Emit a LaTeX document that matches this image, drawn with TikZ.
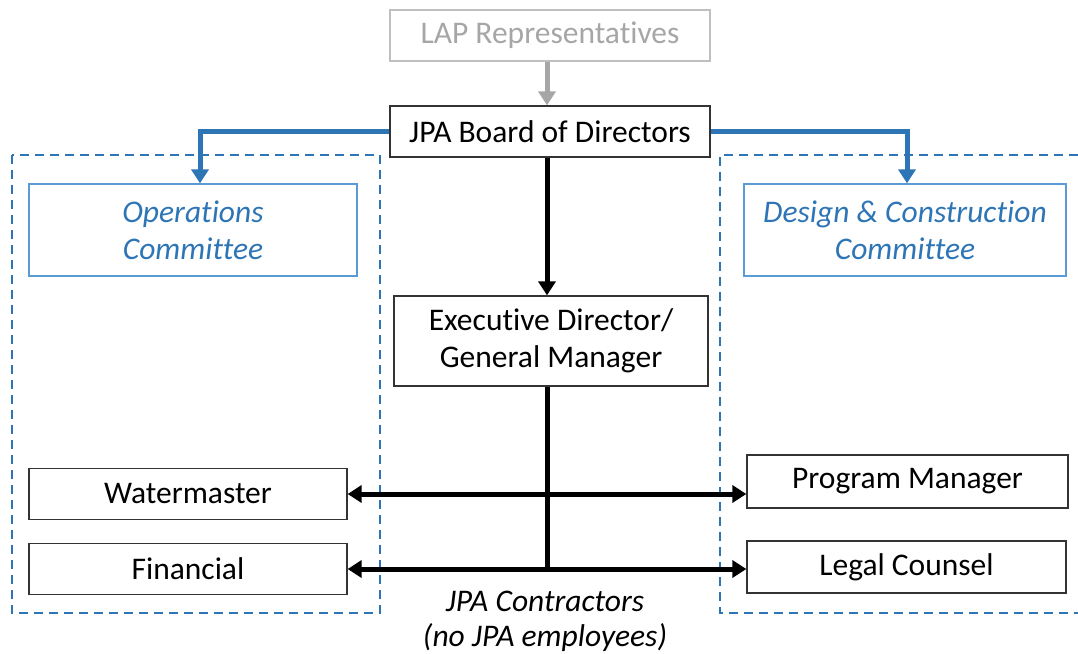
\documentclass[tikz,border=0pt]{standalone}
\usepackage{fontspec}
\setmainfont{Carlito}[Ligatures=NoCommon]
\usetikzlibrary{arrows.meta}
\definecolor{mblue}{HTML}{2E75B6}
\definecolor{lblue}{HTML}{5B9BD5}
\definecolor{lgray}{HTML}{BFBFBF}
\definecolor{tgray}{HTML}{A6A6A6}
\tikzset{
  base/.style={draw, line width=1.3pt, inner sep=0pt, align=center, font=\fontsize{31.5}{37}\selectfont},
  blackbox/.style={base, draw=black!80},
  graybox/.style={base, draw=lgray, text=tgray},
  bluebox/.style={base, draw=lblue, text=mblue, font=\fontsize{31.5}{37}\selectfont\itshape},
  thick arrow/.style={line width=5pt, -{Triangle[length=14pt,width=17pt]}},
  dbl arrow/.style={line width=5pt, {Triangle[length=14pt,width=17pt]}-{Triangle[length=14pt,width=17pt]}},
  dashbox/.style={draw=mblue, line width=2pt, dash pattern=on 9pt off 6pt},
}
\begin{document}
\begin{tikzpicture}[x=1pt,y=-1pt]
\useasboundingbox (0,0) rectangle (1078,653);
% dashed groups
\draw[dashbox] (12,155) rectangle (380,613);
\draw[dashbox] (1078,155) -- (720,155) -- (720,613) -- (1078,613);
% nodes
\node[graybox, minimum width=320pt, minimum height=51pt] (lap) at (550,35.5) {LAP Representatives};
\node[blackbox, minimum width=320pt, minimum height=51pt] (board) at (550,131.5) {JPA Board of Directors};
\node[bluebox, minimum width=328pt, minimum height=92pt] (ops) at (193,230) {Operations\\Committee};
\node[bluebox, minimum width=322pt, minimum height=92pt] (dc) at (905,230) {Design \& Construction\\Committee};
\node[blackbox, minimum width=314pt, minimum height=90pt] (exec) at (551,341) {Executive Director/\\General Manager};
\node[blackbox, minimum width=318pt, minimum height=51pt] (wm) at (188,494) {Watermaster};
\node[blackbox, minimum width=318pt, minimum height=51pt] (fin) at (188,569) {Financial};
\node[blackbox, minimum width=321pt, minimum height=53pt] (pm) at (907.5,481.5) {Program Manager};
\node[blackbox, minimum width=319pt, minimum height=52pt] (lc) at (906.5,567) {Legal Counsel};
\node[align=center, font=\fontsize{31.5}{35}\selectfont\itshape] (lbl) at (545,621) {JPA Contractors\\(no JPA employees)};
\coordinate (spine) at (547,0);
% connectors
\draw[thick arrow, tgray] (lap.south -| spine) -- (board.north -| spine);
\draw[thick arrow, mblue] (board.west) -| ([xshift=7pt]ops.north);
\draw[thick arrow, mblue] (board.east) -| ([xshift=2pt]dc.north);
\draw[thick arrow, black] (board.south -| spine) -- (exec.north -| spine);
\draw[line width=5pt] (exec.south -| spine) -- (fin.east -| spine);
\draw[dbl arrow] (wm.east) -- (wm.east -| pm.west);
\draw[dbl arrow] (fin.east) -- (fin.east -| lc.west);
\end{tikzpicture}
\end{document}
